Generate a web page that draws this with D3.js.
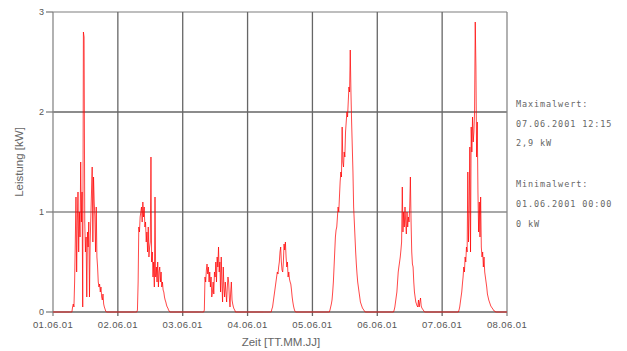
<!DOCTYPE html>
<html>
<head>
<meta charset="utf-8">
<script src="https://cdn.jsdelivr.net/npm/d3@7"></script>
<style>
  body { margin: 0; background: #fff; }
  svg { display: block; }
</style>
</head>
<body>
<div id="chart"></div>
<script>
// --- data (kW, 15 min steps, each day starts at 06:00) ---
const dayDates = ["2001-06-01", "2001-06-02", "2001-06-03", "2001-06-04", "2001-06-05", "2001-06-06", "2001-06-07"];
const startHour = 6;
const stepMinutes = 15;

const day1 = [0,0,0,0,0, 0.05,0.08,0.05,0.3, 0.7,1.15,0.4,0.9, 1.2,0.6,1.0,0.75, 1.5,0.9,1.2,0.05, 2.8,2.75,0.9,0.6,
  0.75,0.15,0.8,0.65, 0.9,0.15,0.7,0.95, 1.2,1.45,0.7,1.35, 1.1,0.95,0.6,1.05, 0.55,0.45,0.3,0.25,
  0.28,0.2,0.25,0.15, 0.12,0.18,0.08,0.05, 0.03,0.01,0,0];
const day2 = [0,0,0,0,0, 0.02,0.3,0.85,0.8, 0.95,1.0,1.05,0.9, 1.1,0.95,1.05,0.85, 0.9,0.7,0.8,0.6, 0.85,0.55,0.65,0.7,
  1.55,0.5,0.6,0.35, 0.5,0.25,1.15,0.35, 0.45,0.3,0.5,0.25, 0.4,0.45,0.3,0.4, 0.25,0.3,0.22,0.2,
  0.15,0.12,0.1,0.07, 0.05,0.04,0.02,0.01, 0];
const day3 = [0,0,0,0,0,0,0,0, 0.02,0.35,0.3,0.42, 0.48,0.38,0.45,0.3, 0.4,0.25,0.35,0.15, 0.2,0.3,0.18,0.4,
  0.35,0.5,0.3,0.55, 0.45,0.65,0.4,0.5, 0.2,0.55,0.3,0.1, 0.45,0.25,0.15,0.3, 0.2,0.1,0.25,0.35,
  0.3,0.15,0.05,0.2, 0.3,0.12,0.08,0.05, 0.03,0.02,0,0];
const day4 = [0,0,0,0,0,0,0,0,0,0,0,0, 0.03,0.05,0.1,0.15, 0.2,0.25,0.3,0.35, 0.4,0.38,0.45,0.5, 0.6,0.65,0.5,0.42,
  0.4,0.5,0.68,0.62, 0.7,0.55,0.45,0.5, 0.35,0.4,0.33,0.3, 0.28,0.22,0.15,0.1, 0.06,0.03,0.01,0];
const day5 = [0,0,0.02,0.05, 0.08,0.12,0.2,0.3, 0.45,0.6,0.75,0.82, 0.85,0.95,1.05,1.0, 1.15,1.3,1.4,1.35,
  1.85,1.5,1.45,1.6, 1.55,1.8,1.9,2.0, 1.95,2.1,2.25,2.2, 2.62,2.2,1.9,1.65, 1.4,1.05,0.9,0.75,
  0.6,0.48,0.38,0.3, 0.25,0.2,0.15,0.1, 0.08,0.06,0.04,0.03, 0.02,0.01,0,0];
const day6 = [0,0.02,0.05,0.1, 0.15,0.2,0.3,0.4, 0.45,0.5,0.55,0.62, 0.7,1.25,0.8,1.0, 0.85,1.05,0.9,0.78,
  1.0,0.85,0.95,0.9, 1.05,1.35,0.9,0.6, 0.48,0.45,0.3,0.2, 0.15,0.1,0.08,0.06, 0.05,0.12,0.05,0.1,
  0.14,0.06,0.04,0.03, 0.02,0.01,0,0];
const day7 = [0,0.02,0.05,0.1, 0.15,0.2,0.28,0.35, 0.45,0.4,0.55,0.5, 0.65,0.6,1.4,0.7, 1.0,1.65,0.6,1.85,
  1.6,1.95,1.7,1.8, 2.0,2.9,2.45,1.55, 1.9,1.2,0.8,1.1, 0.75,1.15,0.65,0.55, 0.6,0.45,0.55,0.4,
  0.35,0.3,0.25,0.18, 0.15,0.12,0.1,0.08, 0.06,0.05,0.04,0.03, 0.02,0.01,0.01,0, 0];
const dayValues = [day1, day2, day3, day4, day5, day6, day7];

const xTickDates = ["2001-06-01", "2001-06-02", "2001-06-03", "2001-06-04", "2001-06-05", "2001-06-06", "2001-06-07", "2001-06-08"];
const yTicks = [0, 1, 2, 3];
const infoLines = ["Maximalwert:", "07.06.2001 12:15", "2,9 kW", "", "Minimalwert:", "01.06.2001 00:00", "0 kW"];

// --- layout ---
const W = 627, H = 351;
const m = { left: 53, right: 120, top: 12, bottom: 39 };

const parse = d3.utcParse("%Y-%m-%d");
const points = [{ t: parse(xTickDates[0]), v: 0 }];
dayValues.forEach((vals, i) => {
  const d0 = parse(dayDates[i]);
  vals.forEach((v, j) => {
    points.push({ t: new Date(d0.getTime() + (startHour * 60 + j * stepMinutes) * 60000), v: v });
  });
});
points.push({ t: parse(xTickDates[xTickDates.length - 1]), v: 0 });

const x = d3.scaleUtc()
  .domain([parse(xTickDates[0]), parse(xTickDates[xTickDates.length - 1])])
  .range([m.left, W - m.right]);
const y = d3.scaleLinear()
  .domain([0, 3])
  .range([H - m.bottom, m.top]);

const svg = d3.select("#chart").append("svg")
  .attr("width", W).attr("height", H)
  .style("font-family", "'Liberation Sans', Arial, sans-serif");

// horizontal grid
svg.append("g")
  .selectAll("line")
  .data(yTicks)
  .join("line")
    .attr("x1", m.left).attr("x2", W - m.right)
    .attr("y1", d => y(d)).attr("y2", d => y(d))
    .attr("stroke", d => d === 1 || d === 3 ? "#a8a8a8" : "#666")
    .attr("stroke-width", d => d === 1 ? 2 : 1.3);

// vertical grid (day boundaries) + small ticks below
svg.append("g")
  .selectAll("line")
  .data(xTickDates.map(parse))
  .join("line")
    .attr("x1", d => x(d)).attr("x2", d => x(d))
    .attr("y1", m.top).attr("y2", H - m.bottom + 4)
    .attr("stroke", (d, i) => i === 0 || i === xTickDates.length - 1 ? "#888" : "#666")
    .attr("stroke-width", 1.3);

// y-axis small ticks left of the axis
svg.append("g")
  .selectAll("line")
  .data(yTicks)
  .join("line")
    .attr("x1", m.left - 7).attr("x2", m.left)
    .attr("y1", d => y(d)).attr("y2", d => y(d))
    .attr("stroke", "#777").attr("stroke-width", 1.2);

// power curve
const line = d3.line()
  .x(d => x(d.t))
  .y(d => y(d.v));

svg.append("path")
  .datum(points)
  .attr("fill", "none")
  .attr("stroke", "#ff0000")
  .attr("stroke-opacity", 0.72)
  .attr("stroke-width", 1)
  .attr("d", line);

// y tick labels
svg.append("g")
  .selectAll("text")
  .data(yTicks)
  .join("text")
    .attr("x", m.left - 9)
    .attr("y", d => y(d) + 3)
    .attr("text-anchor", "end")
    .attr("font-size", 9)
    .attr("fill", "#555")
    .text(d => d);

// x tick labels
const fmt = d3.utcFormat("%d.%m.%y");
svg.append("g")
  .selectAll("text")
  .data(xTickDates.map(parse))
  .join("text")
    .attr("x", d => x(d))
    .attr("y", H - m.bottom + 16)
    .attr("text-anchor", "middle")
    .attr("font-size", 9.5)
    .attr("letter-spacing", 0.4)
    .attr("fill", "#555")
    .text(d => fmt(d));

// axis titles
svg.append("text")
  .attr("x", 281).attr("y", 346)
  .attr("text-anchor", "middle")
  .attr("font-size", 11.5)
  .attr("fill", "#666")
  .text("Zeit [TT.MM.JJ]");

svg.append("text")
  .attr("transform", "translate(23,162) rotate(-90)")
  .attr("text-anchor", "middle")
  .attr("font-size", 11.5)
  .attr("fill", "#666")
  .text("Leistung [kW]");

// max / min info on the right
svg.append("g")
  .selectAll("text")
  .data(infoLines)
  .join("text")
    .attr("x", 516)
    .attr("y", (d, i) => 107 + i * 20 - (i === 2 ? 1 : 0))
    .attr("font-family", "'DejaVu Sans Mono', monospace")
    .attr("font-size", 8.5)
    .attr("letter-spacing", 0.9)
    .attr("fill", "#666")
    .text(d => d);
</script>
</body>
</html>
